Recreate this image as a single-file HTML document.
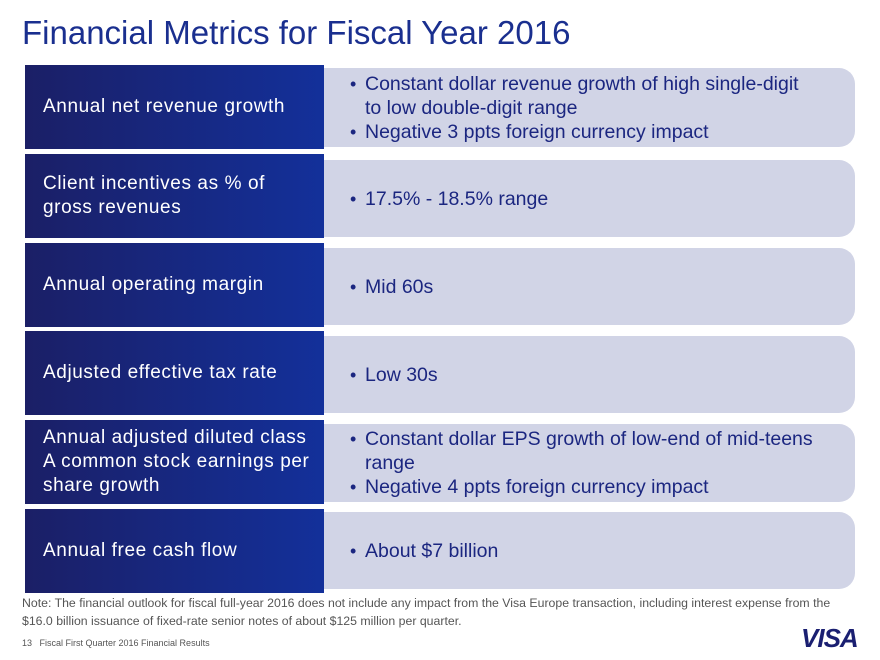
<!DOCTYPE html>
<html><head><meta charset="utf-8"><style>
body{margin:0;width:880px;height:660px;background:#fff;font-family:"Liberation Sans",sans-serif;position:relative;overflow:hidden}
.t{position:absolute;left:22px;top:14px;font-size:33px;color:#1a2f8f;white-space:nowrap}
.l{position:absolute;left:25px;width:299px;height:84px;background:linear-gradient(90deg,#1b1f66,#13309a);color:#fff;font-size:19px;letter-spacing:0.6px;box-sizing:border-box;padding-left:18px;padding-right:6px;display:flex;align-items:center;line-height:24px}
.r{position:absolute;left:324px;width:531px;background:#d1d4e6;border-radius:0 16px 16px 0;color:#1b2680;font-size:19.5px;box-sizing:border-box;padding-left:14px;padding-right:40px;display:flex;flex-direction:column;justify-content:center;line-height:24px}
.r div{padding-left:27px;text-indent:-15px}
.r div::before{content:"•";display:inline-block;width:15px;text-indent:0;font-size:18px}
.n{position:absolute;left:22px;top:594px;font-size:12.3px;color:#555;line-height:18px;width:820px}
.f{position:absolute;left:22px;top:638px;font-size:9px;color:#555}
.v{position:absolute;left:801px;top:623px;font-size:26px;font-weight:bold;font-style:italic;color:#1a1f71;letter-spacing:-1px}
</style></head><body>
<div class="t">Financial Metrics for Fiscal Year 2016</div>
<div class="l" style="top:65px">Annual net revenue growth</div>
<div class="r" style="top:68px;height:79px"><div>Constant dollar revenue growth of high single-digit to low double-digit range</div><div>Negative 3 ppts foreign currency impact</div></div>
<div class="l" style="top:154px">Client incentives as % of<br>gross revenues</div>
<div class="r" style="top:160px;height:77px"><div>17.5% - 18.5% range</div></div>
<div class="l" style="top:243px">Annual operating margin</div>
<div class="r" style="top:248px;height:77px"><div>Mid 60s</div></div>
<div class="l" style="top:331px">Adjusted effective tax rate</div>
<div class="r" style="top:336px;height:77px"><div>Low 30s</div></div>
<div class="l" style="top:420px">Annual adjusted diluted class<br>A common stock earnings per<br>share growth</div>
<div class="r" style="top:424px;height:78px"><div>Constant dollar EPS growth of low-end of mid-teens range</div><div>Negative 4 ppts foreign currency impact</div></div>
<div class="l" style="top:509px">Annual free cash flow</div>
<div class="r" style="top:512px;height:77px"><div>About $7 billion</div></div>
<div class="n">Note: The financial outlook for fiscal full-year 2016 does not include any impact from the Visa Europe transaction, including interest expense from the $16.0 billion issuance of fixed-rate senior notes of about $125 million per quarter.</div>
<div class="f">13&nbsp;&nbsp; Fiscal First Quarter 2016 Financial Results</div>
<div class="v">VISA</div>
</body></html>
